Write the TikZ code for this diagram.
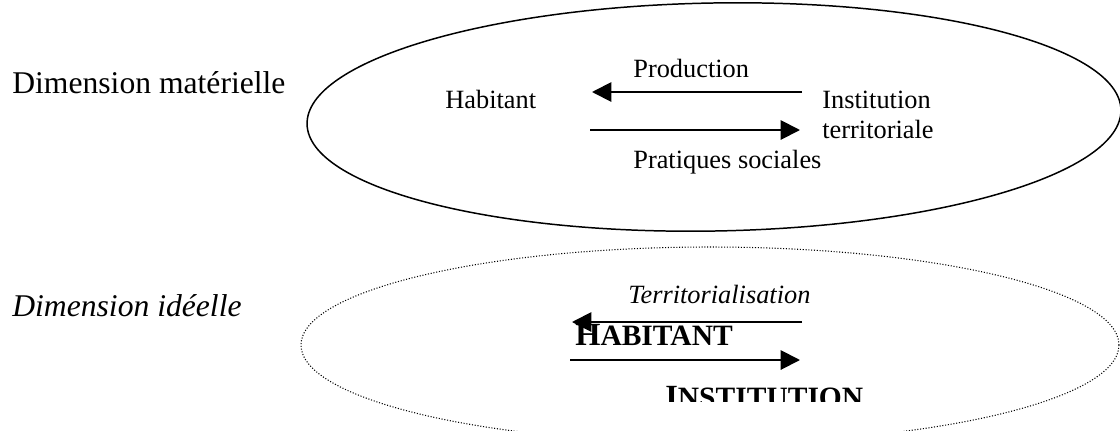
\documentclass[tikz,border=0pt]{standalone}
\usepackage{fontspec}
\setmainfont{Liberation Serif}
\usetikzlibrary{arrows.meta}

\begin{document}
\begin{tikzpicture}[
  x = 0.02cm, y = -0.02cm,
  big/.style={anchor=base west, inner sep=0pt, font=\fontsize{18}{21}\selectfont},
  small/.style={anchor=base west, inner sep=0pt, font=\fontsize{15}{18}\selectfont},
  caps/.style={anchor=base west, inner sep=0pt, font=\bfseries},
  flow/.style={line width=1.1pt, -{Triangle[length=11pt, width=11pt]}},
  matring/.style={draw, line width=0.85pt},
  idring/.style={draw, line width=0.6pt, dash pattern=on 0.6pt off 1pt}
]
\def\bigH{\fontsize{18.4}{21}\selectfont}
\def\smallH{\fontsize{16.8}{20}\selectfont}
\useasboundingbox (0,0) rectangle (1120,430);

%rings
\coordinate (matc) at (714,117);
\coordinate (idc) at (710,345);
\path[matring, rotate around={1:(matc)}] (matc) ellipse [x radius=407, y radius=114];
\path[idring] (idc) ellipse [x radius=409, y radius=98];

%left labels
\node[big] (dimmat) at (12,93) {Dimension matérielle};
\node[big, font=\fontsize{18}{21}\selectfont\itshape] (dimid) at (12,316) {Dimension idéelle};

%material dimension
\node[small] (hab) at (445,108) {Habitant};
\node[small] (prod) at (633,77) {Production};
\node[small] (inst) at (822,108) {Institution};
\node[small] (terr) at (822,138) {territoriale};
\node[small] (prat) at (633,168) {Pratiques sociales};

\coordinate (prodA) at (802,92);
\coordinate (prodB) at (592,92);
\coordinate (pratA) at (590,130);
\coordinate (pratB) at (800,130);
\draw[flow] (prodA) -- (prodB);
\draw[flow] (pratA) -- (pratB);

%ideal dimension
\node[small, font=\fontsize{15}{18}\selectfont\itshape] (territ) at (628,303) {Territorialisation};
\coordinate (terA) at (802,322);
\coordinate (terB) at (572,322);
\coordinate (retA) at (570,360);
\coordinate (retB) at (800,360);
\draw[flow] (terA) -- (terB);
\draw[flow] (retA) -- (retB);

\node[caps] (habid) at (575,345) {{\bigH H}{\smallH ABITANT}};
\begin{scope}
  \clip (600,370) rectangle (900,401);
  \node[caps] (instid) at (665,407) {{\bigH I}{\smallH NSTITUTION}};
\end{scope}

\end{tikzpicture}
\end{document}
